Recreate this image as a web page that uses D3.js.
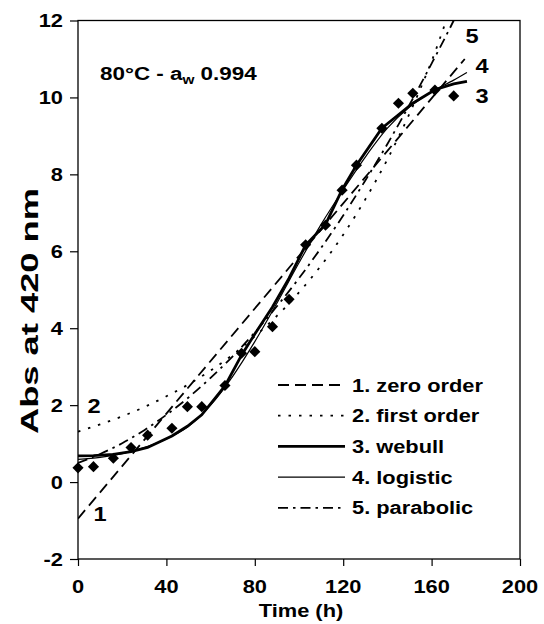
<!DOCTYPE html>
<html><head><meta charset="utf-8">
<script src="https://cdn.jsdelivr.net/npm/d3@7"></script>
<style>
body{margin:0;background:#fff}
text{font-family:"Liberation Sans",Arial,sans-serif;font-weight:bold;fill:#000}
</style>
</head><body>
<svg id="c" width="544" height="624"></svg>
<script>
// ---- data ----
const obsTime = [0, 7, 16, 24, 31.5, 42.5, 49.5, 56, 66.5, 74, 80, 88, 95.5, 103, 112, 119.5, 126, 137.5, 145, 151.5, 161.5, 170];
const obsAbs  = [0.37, 0.40, 0.62, 0.90, 1.22, 1.40, 1.96, 1.96, 2.51, 3.35, 3.39, 4.04, 4.75, 6.17, 6.68, 7.59, 8.24, 9.20, 9.85, 10.11, 10.19, 10.04];

const zeroTime = [0, 175];
const zeroAbs  = [-0.95, 11.0];

const firstTime = [0, 10, 20, 30, 40, 50, 60, 70, 80, 90, 100, 110, 120, 130, 140, 150, 160, 170, 175];
const firstAbs  = [1.31, 1.50, 1.71, 1.95, 2.23, 2.54, 2.90, 3.31, 3.79, 4.32, 4.93, 5.63, 6.43, 7.35, 8.39, 9.58, 10.94, 12.5, 13.1];

const webullTime = [0, 7, 16, 24, 31.5, 42.5, 49.5, 56, 66.5, 74, 80, 88, 95.5, 103, 112, 119.5, 126, 137.5, 145, 151.5, 161.5, 170, 176];
const webullAbs  = [0.68, 0.69, 0.72, 0.79, 0.90, 1.20, 1.45, 1.75, 2.50, 3.30, 3.85, 4.55, 5.30, 6.16, 6.70, 7.60, 8.24, 9.20, 9.55, 9.85, 10.20, 10.35, 10.42];

const logisticTime = [0, 10, 20, 30, 40, 50, 60, 70, 80, 90, 100, 110, 120, 130, 140, 150, 160, 170, 176];
const logisticAbs  = [0.59, 0.64, 0.74, 0.90, 1.12, 1.45, 2.00, 2.75, 3.65, 4.65, 5.70, 6.70, 7.60, 8.45, 9.20, 9.75, 10.15, 10.45, 10.65];

const paraTime = [0, 10, 20, 30, 40, 50, 60, 70, 80, 90, 100, 110, 120, 130, 140, 150, 160, 170, 175];
const paraAbs  = [0.50, 0.73, 1.01, 1.35, 1.75, 2.20, 2.71, 3.27, 3.89, 4.57, 5.30, 6.09, 6.93, 7.84, 8.79, 9.81, 10.88, 12.0, 12.6];

const xTicks = [0, 40, 80, 120, 160, 200];
const yTicks = [-2, 0, 2, 4, 6, 8, 10, 12];
const legendLabels = ["1. zero order", "2. first order", "3. webull", "4. logistic", "5. parabolic"];

// ---- drawing ----
const svg = d3.select("#c");
const SX = 1.18;
const x = d3.scaleLinear().domain([0, 200]).range([78, 520]);
const y = d3.scaleLinear().domain([-2, 12]).range([559, 20.5]);

function stext(parent, px, py, str, size, anchor) {
  const g = parent.append("g").attr("transform", `translate(${px},${py}) scale(${SX},1)`);
  return g.append("text").attr("x", 0).attr("y", 0)
    .attr("font-size", size).attr("text-anchor", anchor || "start").text(str);
}

svg.append("defs").append("clipPath").attr("id", "plot")
  .append("rect").attr("x", 78).attr("y", 20.5).attr("width", 442).attr("height", 538.5);

// axes
const xAxis = svg.append("g").attr("transform", "translate(0,559)")
  .call(d3.axisBottom(x).tickValues(xTicks).tickSize(7).tickSizeOuter(0).tickFormat(""));
const yAxis = svg.append("g").attr("transform", "translate(78,0)")
  .call(d3.axisLeft(y).tickValues(yTicks).tickSize(8).tickSizeOuter(0).tickFormat(""));
[xAxis, yAxis].forEach(a => {
  a.select(".domain").remove();
  a.selectAll("line").attr("stroke", "#000").attr("stroke-width", 1.2);
});
xTicks.forEach(t => stext(svg, x(t), 593, String(t), 18.5, "middle"));
yTicks.forEach(t => stext(svg, 63, y(t) + 6.5, String(t), 18.5, "end"));

// frame
svg.append("rect").attr("x", 78).attr("y", 20.5).attr("width", 442).attr("height", 538.5)
  .attr("fill", "none").attr("stroke", "#000").attr("stroke-width", 1.3);

// axis titles
stext(svg, 301, 617, "Time (h)", 18.5, "middle");
svg.append("text")
  .attr("transform", "translate(38,311) rotate(-90)")
  .attr("text-anchor", "middle").attr("font-size", 24)
  .attr("textLength", 246).attr("lengthAdjust", "spacingAndGlyphs")
  .text("Abs at 420 nm");

// annotation
const ann = svg.append("g").attr("transform", `translate(100,80) scale(${SX},1)`)
  .append("text").attr("font-size", 19);
ann.append("tspan").text("80°C - a");
ann.append("tspan").attr("font-size", 13).attr("dy", 4).text("w");
ann.append("tspan").attr("dy", -4).text(" 0.994");

// curves
const styles = [
  {t: zeroTime, v: zeroAbs, dash: "11,6", w: 1.8},
  {t: firstTime, v: firstAbs, dash: "2.5,8", w: 1.8},
  {t: webullTime, v: webullAbs, dash: null, w: 2.8},
  {t: logisticTime, v: logisticAbs, dash: null, w: 1.2},
  {t: paraTime, v: paraAbs, dash: "10,5,2.5,5", w: 1.8}
];
const line = d3.line().x(d => x(d[0])).y(d => y(d[1]));
const curves = svg.append("g").attr("clip-path", "url(#plot)");
styles.forEach((s, i) => {
  const pts = s.t.map((t, j) => [t, s.v[j]]);
  const ln = i === 2 ? line.curve(d3.curveLinear) : line.curve(d3.curveMonotoneX);
  curves.append("path").attr("d", ln(pts)).attr("fill", "none")
    .attr("stroke", "#000").attr("stroke-width", s.w)
    .attr("stroke-dasharray", s.dash);
});

// observed points
svg.append("g").selectAll("path").data(obsTime.map((t, i) => [t, obsAbs[i]])).join("path")
  .attr("d", d3.symbol(d3.symbolSquare, 62)())
  .attr("transform", d => `translate(${x(d[0])},${y(d[1])}) rotate(45)`)
  .attr("fill", "#000");

// curve labels
stext(svg, 94, 413, "2", 20, "middle");
stext(svg, 100, 521, "1", 20, "middle");
stext(svg, 472, 43, "5", 20, "middle");
stext(svg, 482, 73, "4", 20, "middle");
stext(svg, 482, 102.5, "3", 20, "middle");

// legend
legendLabels.forEach((lab, i) => {
  const ly = 385 + i * 30.7;
  svg.append("line").attr("x1", 278).attr("x2", 345).attr("y1", ly).attr("y2", ly)
    .attr("stroke", "#000").attr("stroke-width", styles[i].w)
    .attr("stroke-dasharray", styles[i].dash);
  stext(svg, 352, ly + 6.5, lab, 18.5, "start");
});
</script>
</body></html>
